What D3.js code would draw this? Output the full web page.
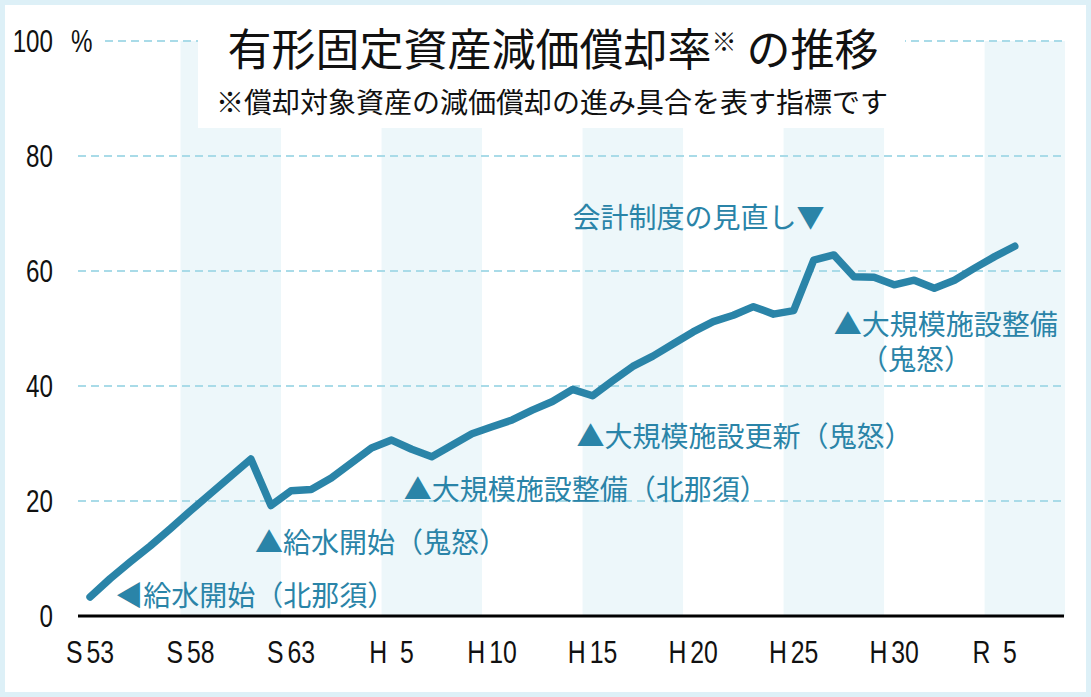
<!doctype html>
<html>
<head>
  <meta charset="utf-8">
  <title>有形固定資産減価償却率の推移</title>
  <style>
  html, body { margin: 0; padding: 0; background: #fff; }
  #vis { width: 1091px; height: 697px; }
  text { font-family: "Noto Sans CJK JP", sans-serif; }
  .num { font-family: "Liberation Sans", Arial, sans-serif; }
  </style>
</head>
<body>
  <div id="vis"></div>

  <script src="https://d3js.org/d3.v7.min.js"></script>
  <script>
  // fiscal years S53 (1978) .. R6 (2024)
  var years = d3.range(1978, 2025);
  var rates = [
    3.3, 6.5, 9.4, 12.2, 15.2, 18.3, 21.3, 24.3, 27.3, 19.2,
    21.8, 22.0, 24.0, 26.6, 29.2, 30.6, 29.0, 27.7, 29.7, 31.7,
    32.9, 34.1, 35.8, 37.3, 39.4, 38.3, 40.9, 43.4, 45.2, 47.3,
    49.4, 51.2, 52.3, 53.8, 52.5, 53.1, 61.9, 62.8, 59.0, 58.9,
    57.6, 58.4, 57.0, 58.4, 60.5, 62.5, 64.3
  ];
  var tickYears = [1978, 1983, 1988, 1993, 1998, 2003, 2008, 2013, 2018, 2023];
  var tickEras = ['S', 'S', 'S', 'H', 'H', 'H', 'H', 'H', 'H', 'R'];
  var tickNums = ['53', '58', '63', '5', '10', '15', '20', '25', '30', '5'];
  var yTicks = [0, 20, 40, 60, 80, 100];
  var bandStarts = [1982.5, 1992.5, 2002.5, 2012.5, 2022.5];

  // each note: lines of text, anchored at (year, value) of its first line
  var notes = [
    { lines: ['◀給水開始（北那須）'], year: 1979.25, value: 1.7 },
    { lines: ['▲給水開始（鬼怒）'], year: 1986.2, value: 11.0 },
    { lines: ['▲大規模施設整備（北那須）'], year: 1993.6, value: 20.2 },
    { lines: ['▲大規模施設更新（鬼怒）'], year: 2002.2, value: 29.4 },
    { lines: ['会計制度の見直し▼'], year: 2002.0, value: 67.5 },
    { lines: ['▲大規模施設整備', '（鬼怒）'], year: 2015.0, value: 48.9, year2: 2016.3 }
  ];

  var width = 1091;
  var height = 697;
  var blue = '#2a84a8';

  var svg = d3.select('#vis')
    .append('svg')
    .attr('width', width)
    .attr('height', height);

  svg.append('rect').attr('width', width).attr('height', height).attr('fill', '#ddf0f7');
  svg.append('rect').attr('x', 5).attr('y', 5)
    .attr('width', width - 10).attr('height', height - 10).attr('fill', '#fff');

  var x = d3.scaleLinear().domain([1977.5, 2026.5]).range([80, 1065]);
  var y = d3.scaleLinear().domain([0, 100]).range([616, 41]);

  // shaded bands
  svg.selectAll('.band').data(bandStarts)
    .enter().append('rect')
      .attr('class', 'band')
      .attr('x', function(d){ return x(d); })
      .attr('y', y(100))
      .attr('width', function(d){ return x(Math.min(d + 5, 2026.5)) - x(d); })
      .attr('height', y(0) - y(100))
      .attr('fill', '#edf7fa');

  // grid lines
  svg.selectAll('.grid').data(yTicks.filter(function(d){ return d > 0; }))
    .enter().append('line')
      .attr('class', 'grid')
      .attr('x1', function(d){ return d === 100 ? 105 : 78; })
      .attr('x2', 1064)
      .attr('y1', function(d){ return y(d); })
      .attr('y2', function(d){ return y(d); })
      .attr('stroke', '#a9dbe8')
      .attr('stroke-width', 2)
      .attr('stroke-dasharray', '8,5');

  // title box
  svg.append('rect').attr('x', 198).attr('y', 20).attr('width', 707).attr('height', 108).attr('fill', '#fff');

  var title = svg.append('text')
    .attr('x', 553).attr('y', 66)
    .attr('text-anchor', 'middle')
    .attr('font-size', 44)
    .attr('fill', '#111');
  title.append('tspan').text('有形固定資産減価償却率');
  title.append('tspan').attr('font-size', 25).attr('dy', -15).text('※');
  title.append('tspan').attr('dy', 15).text(' の推移');

  svg.append('text')
    .attr('x', 552).attr('y', 113)
    .attr('text-anchor', 'middle')
    .attr('font-size', 28)
    .attr('fill', '#111')
    .text('※償却対象資産の減価償却の進み具合を表す指標です');

  // y tick labels (narrowed digits)
  svg.selectAll('.ylab').data(yTicks)
    .enter().append('text')
      .attr('class', 'ylab num')
      .attr('transform', function(d){ return 'translate(53,' + (y(d) + 11) + ') scale(0.78,1)'; })
      .attr('text-anchor', 'end')
      .attr('font-size', 31)
      .attr('fill', '#111')
      .text(function(d){ return d; });
  svg.append('text').attr('class', 'num')
    .attr('transform', 'translate(71,' + (y(100) + 11) + ') scale(0.78,1)')
    .attr('font-size', 31).attr('fill', '#111')
    .text('%');

  // x axis
  svg.append('line')
    .attr('x1', 78).attr('x2', 1064)
    .attr('y1', y(0)).attr('y2', y(0))
    .attr('stroke', '#000').attr('stroke-width', 3);

  var xl = svg.selectAll('.xlab').data(tickYears)
    .enter().append('text')
      .attr('class', 'xlab num')
      .attr('transform', function(d){ return 'translate(' + x(d) + ',663) scale(0.8,1)'; })
      .attr('text-anchor', 'middle')
      .attr('font-size', 31)
      .attr('fill', '#111');
  xl.append('tspan').text(function(d, i){ return tickEras[i]; });
  xl.append('tspan')
    .attr('dx', function(d, i){ return tickNums[i].length === 1 ? 16 : 5; })
    .text(function(d, i){ return tickNums[i]; });

  // line
  var line = d3.line()
    .x(function(d, i){ return x(years[i]); })
    .y(function(d){ return y(d); });

  svg.append('path')
    .datum(rates)
    .attr('d', line)
    .attr('fill', 'none')
    .attr('stroke', blue)
    .attr('stroke-width', 7.5)
    .attr('stroke-linejoin', 'round')
    .attr('stroke-linecap', 'round');

  // annotations
  var note = svg.selectAll('.note').data(notes)
    .enter().append('text')
      .attr('class', 'note')
      .attr('x', function(d){ return x(d.year); })
      .attr('y', function(d){ return y(d.value); })
      .attr('font-size', 28)
      .attr('fill', blue);
  note.each(function(d){
    var t = d3.select(this);
    d.lines.forEach(function(s, i){
      var ts = t.append('tspan').text(s);
      if (i > 0) ts.attr('x', x(d.year2)).attr('dy', 35);
    });
  });
  </script>
</body>
</html>
